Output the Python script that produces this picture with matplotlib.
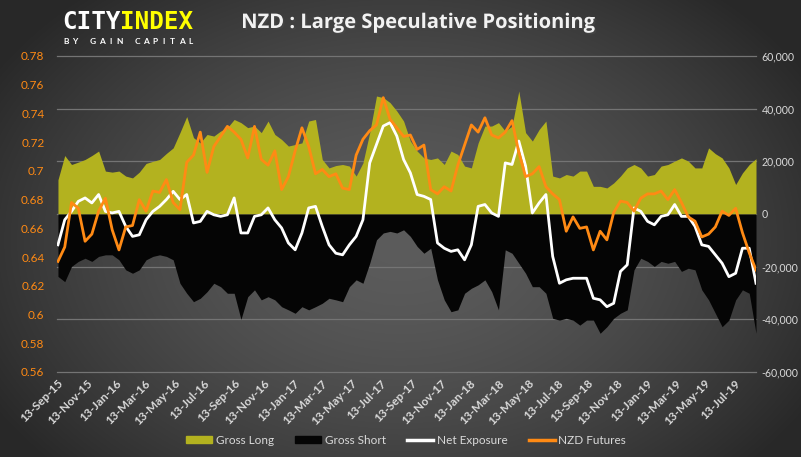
import numpy as np
import pandas as pd
import matplotlib
matplotlib.use("Agg")
import matplotlib.pyplot as plt
import matplotlib.dates as mdates
import matplotlib.patheffects as pe
from matplotlib.patches import Patch
from matplotlib.lines import Line2D
from matplotlib.ticker import FuncFormatter, MultipleLocator

# Дати (кожні два тижні) та дані
dates = pd.date_range("2015-09-15", periods=104, freq="14D")

# Позиції в тисячах контрактів
gross_long = [
    13, 22.2, 18.8, 19.7, 20.7, 22.2, 23.9, 16.3, 15.9, 16.3, 14.4, 13.7, 15.9,
    19.2, 20, 20.7, 23, 25.1, 30.9, 37, 29, 27, 30.2, 29.6, 31.5, 32.8,
    35.9, 34.7, 32.8, 33.4, 30.9, 35.3, 30.2, 28.3, 25.8, 26.4, 27, 35.3, 35.9,
    20.7, 17.5, 18.4, 18.8, 18.2, 14.4, 19.4, 30.9, 44.8, 44.2, 42.3, 39.1, 35.3,
    27.7, 23.9, 21.3, 20.7, 21.3, 18.8, 23.9, 22.6, 18.2, 17.5, 27, 33.4, 33.4,
    34.7, 31.5, 33.4, 46.7, 30.9, 27.7, 32.1, 35.3, 14.4, 13.7, 15, 14.4, 16.3,
    16.3, 10.5, 10.5, 9.9, 11.8, 14.4, 17.5, 18.8, 17.5, 14.4, 15, 18.2, 18.8,
    20.1, 21.3, 20.1, 17.5, 17.5, 25.1, 22.9, 21.3, 17.5, 11.2, 15.6, 18.8, 21,
]
gross_short = [
    -23.7, -25.7, -19.9, -18, -16.8, -18, -16.1, -15.5, -15.5, -17.4, -21.2, -22.5, -21.2,
    -17.4, -16.1, -15.5, -16.1, -17.4, -26.3, -30.1, -33.3, -32, -29.5, -26.3, -27.6, -30.1,
    -30.1, -40, -31.4, -28.8, -32.6, -31.4, -32.6, -35.2, -36.4, -37.7, -35.2, -36.4, -35.2,
    -33.9, -32, -32.6, -33.3, -27.6, -25, -26.3, -18.7, -9.8, -7.2, -6.6, -7.2, -6,
    -8.5, -12.3, -14.9, -13, -25, -32.6, -37.1, -36.4, -30.1, -28.2, -26.9, -25, -29.5,
    -36.4, -13.6, -14.9, -18.7, -22.5, -27.6, -27.6, -30.1, -39.6, -40.3, -39.6, -40.3, -42.2,
    -40.3, -40.3, -45.3, -42.8, -39.6, -37.7, -36.4, -21.2, -16.8, -18, -19.9, -18, -18.7,
    -18, -21.8, -20.6, -21.2, -28.8, -32.6, -37.7, -42.8, -40.3, -32.6, -28.8, -30.1, -45.3,
]
net_exposure = [
    -11.7, -2.2, 1, 4.8, 6.1, 4.2, 7.4, 1, 0.4, 1, -4.7, -8.5, -7.9,
    -2.2, 1, 2.9, 5.5, 8.6, 5.5, 7.4, -3.4, -2.8, 1, -0.3, -0.9, -0.3,
    6.1, -7.2, -7.2, -0.9, -0.3, 2.3, -2.2, -5.3, -11, -13.6, -7.2, 2.3, 2.9,
    -4.7, -11.7, -14.9, -15.5, -11.7, -8.5, -2.2, 19.4, 26.4, 33.4, 34.7, 29.6, 20.7,
    15.6, 7.4, 6.7, 5.5, -11, -13, -14.2, -13.6, -17.4, -11.7, 2.9, 3.6, 0.4,
    -0.9, 19.4, 18.8, 27.7, 18.2, 0.4, 4.2, 7.4, -16.1, -26.3, -25, -24.4, -24.4,
    -24.4, -32, -32.6, -35.2, -33.9, -21.8, -19.3, 2.3, 1, -2.8, -4.1, -0.9, -0.3,
    3.6, -0.9, -0.9, -4.7, -11.7, -12.3, -15.5, -18.7, -23.8, -22.5, -13, -13, -26.3,
]
# Ф'ючерси NZD (ліва вісь)
nzd_futures = [
    0.637, 0.647, 0.678, 0.674, 0.651, 0.656, 0.672, 0.681, 0.659, 0.645, 0.661, 0.662, 0.680,
    0.672, 0.686, 0.685, 0.694, 0.678, 0.673, 0.706, 0.711, 0.727, 0.699, 0.717, 0.724, 0.731,
    0.727, 0.722, 0.709, 0.731, 0.708, 0.704, 0.714, 0.687, 0.696, 0.714, 0.730, 0.717, 0.698,
    0.701, 0.696, 0.698, 0.688, 0.687, 0.711, 0.722, 0.728, 0.732, 0.751, 0.736, 0.730, 0.724,
    0.725, 0.715, 0.718, 0.687, 0.684, 0.689, 0.686, 0.704, 0.718, 0.732, 0.727, 0.737, 0.725,
    0.723, 0.727, 0.735, 0.713, 0.696, 0.698, 0.703, 0.689, 0.684, 0.680, 0.658, 0.668, 0.660,
    0.661, 0.645, 0.658, 0.652, 0.671, 0.679, 0.678, 0.672, 0.681, 0.684, 0.684, 0.686, 0.680,
    0.687, 0.678, 0.668, 0.665, 0.654, 0.656, 0.661, 0.672, 0.669, 0.674, 0.657, 0.643, 0.631,
]

OLIVE = "#b3b21f"
BLACK = "#050505"
ORANGE = "#ff8a14"
TXT = "#d9d9d9"
FONT = "Lato"

fig = plt.figure(figsize=(8.01, 4.57), dpi=100)

# Фон з радіальним градієнтом
bg = fig.add_axes([0, 0, 1, 1], zorder=-10)
yy, xx = np.mgrid[0:457, 0:801]
r = np.sqrt(((xx - 400) / 470.0) ** 2 + ((yy - 240) / 330.0) ** 2)
r = np.clip(r, 0, 1)
shade = 0.36 - 0.20 * r ** 1.6
bg.imshow(np.dstack([shade] * 3), extent=[0, 1, 0, 1], aspect="auto")
bg.axis("off")

ax = fig.add_axes([57 / 801, 85 / 457, 699 / 801, 316 / 457])
ax.set_facecolor("none")
long_v = np.array(gross_long) * 1000
short_v = np.array(gross_short) * 1000
net_v = np.array(net_exposure) * 1000
ax.fill_between(dates, 0, long_v, color=OLIVE, lw=0, zorder=2)
ax.fill_between(dates, 0, short_v, color=BLACK, lw=0, zorder=2)
ax.plot(dates, net_v, color="white", lw=2, zorder=3)
ax.set_ylim(-60000, 60000)
ax.yaxis.set_major_locator(MultipleLocator(20000))
ax.yaxis.set_major_formatter(FuncFormatter(lambda v, p: f"{v:,.0f}"))

ax2 = ax.twinx()
ax2.set_facecolor("none")
ax2.plot(dates, nzd_futures, color=ORANGE, lw=2, zorder=4)
ax2.set_ylim(0.56, 0.78)
ax2.yaxis.set_major_locator(MultipleLocator(0.02))
ax2.yaxis.set_major_formatter(FuncFormatter(lambda v, p: f"{round(v, 2):g}"))
# позиції праворуч, ціна ліворуч
ax.yaxis.tick_right()
ax2.yaxis.tick_left()

ax.set_xlim(dates[0], dates[-1])
ticks = pd.date_range("2015-09-01", "2019-07-01", freq="2MS") + pd.Timedelta(days=12)
ax.set_xticks(ticks)
ax.xaxis.set_major_formatter(mdates.DateFormatter("%d-%b-%y"))

for a in (ax, ax2):
    for s in a.spines.values():
        s.set_visible(False)
    a.tick_params(length=0)

ax.tick_params(axis="y", colors=TXT, labelsize=7.6, pad=4)
ax2.tick_params(axis="y", colors=ORANGE, labelsize=8.5, pad=9)
ax.tick_params(axis="x", colors=TXT, labelsize=8.5, pad=4)
for lab in ax.get_yticklabels() + ax2.get_yticklabels():
    lab.set_fontfamily(FONT)
for lab in ax.get_xticklabels():
    lab.set_fontfamily(FONT)
    lab.set_fontweight("bold")
    lab.set_rotation(45)
    lab.set_ha("right")
    lab.set_rotation_mode("anchor")

# горизонтальна сітка
ax.set_axisbelow(True)
ax.grid(True, axis="y", color="#747474", lw=0.9)
ax.grid(False, axis="x")
for gl in ax.yaxis.get_gridlines():
    gl.set_clip_on(False)

# Заголовок і логотип
fig.text(0.522, 1 - 23 / 457, "NZD : Large Speculative Positioning", ha="center", va="center",
         fontsize=14.5, fontweight="bold", color="#f2f2f2", family="Open Sans",
         path_effects=[pe.withSimplePatchShadow(offset=(1.2, -1.2), alpha=0.6)])
fig.text(62 / 801, 1 - 22 / 457, "CITY", fontsize=17.5, color="white", family="DejaVu Sans Mono",
         fontweight="bold", va="center", ha="left")
fig.text(120 / 801, 1 - 22 / 457, "INDEX", fontsize=17.5, color="#ffff00", family="DejaVu Sans Mono",
         fontweight="bold", va="center", ha="left")
sub = "BY GAIN CAPITAL"
for i, ch in enumerate(sub):
    fig.text((66 + i * 8.9) / 801, 1 - 41 / 457, ch, fontsize=6, color="white",
             fontweight="bold", family=FONT, va="center", ha="center")

handles = [
    Patch(color=OLIVE, label="Gross Long"),
    Patch(color=BLACK, label="Gross Short"),
    Line2D([], [], color="white", lw=2.5, label="Net Exposure"),
    Line2D([], [], color=ORANGE, lw=2.5, label="NZD Futures"),
]
leg = fig.legend(handles=handles, loc="center", bbox_to_anchor=(0.507, 0.037), ncol=4,
                 frameon=False, handlelength=2.2, handleheight=0.6,
                 columnspacing=1.8, handletextpad=0.3, prop={"family": FONT, "size": 8.5})
for t in leg.get_texts():
    t.set_color(TXT)

fig.savefig("out.png", dpi=100)
